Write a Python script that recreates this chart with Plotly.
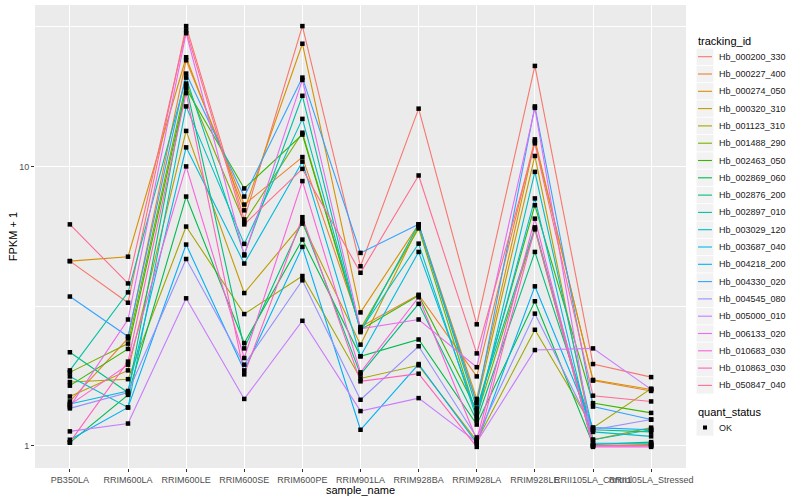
import plotly.graph_objects as go

samples = ["PB350LA", "RRIM600LA", "RRIM600LE", "RRIM600SE", "RRIM600PE", "RRIM901LA",
           "RRIM928BA", "RRIM928LA", "RRIM928LE", "RRII105LA_Control", "RRII105LA_Stressed"]

tracking_ids = ["Hb_000200_330", "Hb_000227_400", "Hb_000274_050", "Hb_000320_310", "Hb_001123_310",
                "Hb_001488_290", "Hb_002463_050", "Hb_002869_060", "Hb_002876_200", "Hb_002897_010",
                "Hb_003029_120", "Hb_003687_040", "Hb_004218_200", "Hb_004330_020", "Hb_004545_080",
                "Hb_005000_010", "Hb_006133_020", "Hb_010683_030", "Hb_010863_030", "Hb_050847_040"]

colors = ["#F8766D", "#EA8331", "#D89000", "#C09B00", "#A3A500", "#7CAE00", "#39B600", "#00BB4E",
          "#00BF7D", "#00C1A3", "#00BFC4", "#00BAE0", "#00B0F6", "#35A2FF", "#9590FF", "#C77CFF",
          "#E76BF3", "#FA62DB", "#FF62BC", "#FF6C91"]

quant_status = ["OK"]

# FPKM + 1 per gene, in the order of `samples`
hb_000200_330 = [4.58, 3.25, 31.8, 6.46, 31.8, 4.39, 16.1, 2.72, 22.9, 1.96, 1.76]
hb_000227_400 = [1.44, 2.42, 24.0, 7.30, 10.8, 2.66, 3.47, 1.77, 12.5, 1.71, 1.57]
hb_000274_050 = [4.58, 4.75, 24.6, 6.96, 27.5, 3.00, 6.20, 1.47, 12.3, 1.72, 1.59]
hb_000320_310 = [1.50, 1.86, 13.4, 3.52, 6.24, 2.30, 6.10, 1.42, 10.9, 1.05, 1.16]
hb_001123_310 = [1.69, 1.73, 6.09, 2.96, 4.05, 1.74, 1.94, 1.04, 2.60, 1.16, 1.60]
hb_001488_290 = [1.83, 2.32, 19.8, 6.30, 13.2, 2.62, 6.00, 1.28, 5.95, 1.00, 1.01]
hb_002463_050 = [1.64, 2.22, 19.0, 8.34, 13.0, 2.60, 3.45, 1.34, 7.26, 1.42, 1.31]
hb_002869_060 = [1.025, 1.52, 7.80, 2.33, 5.47, 2.09, 2.40, 1.19, 3.29, 1.01, 1.03]
hb_002876_200 = [2.16, 1.55, 19.4, 2.23, 6.36, 1.80, 3.22, 1.23, 4.94, 1.14, 1.12]
hb_002897_010 = [1.86, 3.54, 20.8, 4.84, 17.9, 2.55, 6.20, 1.36, 6.05, 1.05, 1.14]
hb_003029_120 = [1.77, 1.37, 16.4, 5.28, 14.8, 2.58, 5.29, 1.25, 9.56, 1.12, 1.08]
hb_003687_040 = [1.41, 1.57, 11.7, 4.49, 10.4, 2.09, 4.94, 1.30, 7.68, 1.02, 1.02]
hb_004218_200 = [1.05, 1.37, 5.25, 1.86, 5.15, 1.14, 1.96, 1.02, 3.72, 1.16, 1.14]
hb_004330_020 = [3.42, 2.46, 21.5, 7.80, 20.8, 4.90, 6.20, 1.42, 16.4, 1.38, 1.24]
hb_004545_080 = [1.36, 1.55, 4.66, 1.95, 3.91, 1.46, 2.27, 1.07, 2.97, 1.14, 1.24]
hb_005000_010 = [1.125, 1.20, 3.37, 1.47, 2.80, 1.33, 1.48, 1.03, 2.20, 2.23, 1.59]
hb_006133_020 = [1.38, 2.83, 30.0, 4.80, 20.4, 2.62, 2.83, 1.91, 16.2, 1.00, 1.00]
hb_010683_030 = [1.40, 1.95, 10.0, 2.06, 8.86, 1.83, 3.40, 1.05, 6.50, 0.99, 0.99]
hb_010863_030 = [1.03, 2.00, 18.3, 1.80, 6.58, 1.70, 1.81, 0.99, 6.00, 1.00, 1.00]
hb_050847_040 = [6.20, 3.81, 30.7, 6.20, 9.80, 4.16, 9.28, 2.14, 12.1, 1.51, 1.44]

series = [hb_000200_330, hb_000227_400, hb_000274_050, hb_000320_310, hb_001123_310,
          hb_001488_290, hb_002463_050, hb_002869_060, hb_002876_200, hb_002897_010,
          hb_003029_120, hb_003687_040, hb_004218_200, hb_004330_020, hb_004545_080,
          hb_005000_010, hb_006133_020, hb_010683_030, hb_010863_030, hb_050847_040]

FONT = "Liberation Sans, Arial, sans-serif"
W, H = 800, 500
ML, MR, MT, MB = 35, 114, 5, 32
PW, PH = W - ML - MR, H - MT - MB


def px(xp):
    return (xp - ML) / PW


def py(yp):
    return (H - MB - yp) / PH


fig = go.Figure()
for name, vals, col in zip(tracking_ids, series, colors):
    fig.add_trace(go.Scatter(x=samples, y=vals, mode="lines", name=name,
                             line=dict(color=col, width=1.1), showlegend=False))

all_x, all_y = [], []
for vals in series:
    all_x += samples
    all_y += vals
fig.add_trace(go.Scatter(x=all_x, y=all_y, mode="markers", name=quant_status[0],
                         marker=dict(color="black", size=4.5, symbol="square"),
                         showlegend=False))

shapes, annotations = [], []
# legend: tracking_id
key_x0, key_x1 = 696.5, 713.5
annotations.append(dict(text="tracking_id", x=px(696), y=py(40.7), xref="paper", yref="paper",
                        xanchor="left", yanchor="middle", showarrow=False,
                        font=dict(size=11, color="black", family=FONT)))
for i, (name, col) in enumerate(zip(tracking_ids, colors)):
    cy = 56.7 + 17.3 * i
    shapes.append(dict(type="rect", xref="paper", yref="paper", x0=px(key_x0), x1=px(key_x1),
                       y0=py(cy - 8.2), y1=py(cy + 8.2), fillcolor="#F2F2F2", line=dict(width=0),
                       layer="below"))
    shapes.append(dict(type="line", xref="paper", yref="paper", x0=px(698), x1=px(712),
                       y0=py(cy), y1=py(cy), line=dict(color=col, width=1.1)))
    annotations.append(dict(text=name, x=px(717), y=py(cy), xref="paper", yref="paper",
                            xanchor="left", yanchor="middle", showarrow=False,
                            font=dict(size=9, color="#1A1A1A", family=FONT)))
# legend: quant_status
annotations.append(dict(text="quant_status", x=px(696), y=py(411.7), xref="paper", yref="paper",
                        xanchor="left", yanchor="middle", showarrow=False,
                        font=dict(size=11, color="black", family=FONT)))
cy = 427.5
shapes.append(dict(type="rect", xref="paper", yref="paper", x0=px(key_x0), x1=px(key_x1),
                   y0=py(cy - 8.2), y1=py(cy + 8.2), fillcolor="#F2F2F2", line=dict(width=0),
                   layer="below"))
shapes.append(dict(type="rect", xref="paper", yref="paper", x0=px(703), x1=px(707),
                   y0=py(cy - 2), y1=py(cy + 2), fillcolor="black", line=dict(width=0)))
annotations.append(dict(text=quant_status[0], x=px(717), y=py(cy), xref="paper", yref="paper",
                        xanchor="left", yanchor="middle", showarrow=False,
                        font=dict(size=9, color="#1A1A1A", family=FONT)))
# axis titles
annotations.append(dict(text="sample_name", x=0.5, y=py(490), xref="paper", yref="paper",
                        xanchor="center", yanchor="middle", showarrow=False,
                        font=dict(size=11, color="black", family=FONT)))
annotations.append(dict(text="FPKM + 1", x=px(12.7), y=0.5, xref="paper", yref="paper",
                        xanchor="center", yanchor="middle", showarrow=False, textangle=-90,
                        font=dict(size=11, color="black", family=FONT)))

fig.update_layout(
    width=W, height=H,
    margin=dict(l=ML, r=MR, t=MT, b=MB),
    paper_bgcolor="white", plot_bgcolor="#EBEBEB",
    font=dict(family=FONT, size=9, color="#4D4D4D"),
    showlegend=False,
    shapes=shapes, annotations=annotations,
    xaxis=dict(type="category", categoryorder="array", categoryarray=samples,
               range=[-0.6, 10.6], showgrid=True, gridcolor="white", gridwidth=1.1,
               zeroline=False, ticks="outside", ticklen=3, tickcolor="#333333",
               tickangle=0, tickfont=dict(size=9, color="#4D4D4D"),
               showline=False),
    yaxis=dict(type="log", range=[-0.080, 1.578], tickvals=[1, 10], ticktext=["1", "10"],
               showgrid=True, gridcolor="white", gridwidth=1.1, zeroline=False,
               ticks="outside", ticklen=3, tickcolor="#333333",
               tickfont=dict(size=9, color="#4D4D4D"),
               minor=dict(tickvals=[10 ** 0.5, 10 ** 1.5], showgrid=True,
                          gridcolor="white", gridwidth=0.5, ticks=""),
               showline=False),
)

fig.write_html("out.html", config={"displayModeBar": False},
               post_script="document.body.style.margin='0';document.body.style.overflow='hidden';")
